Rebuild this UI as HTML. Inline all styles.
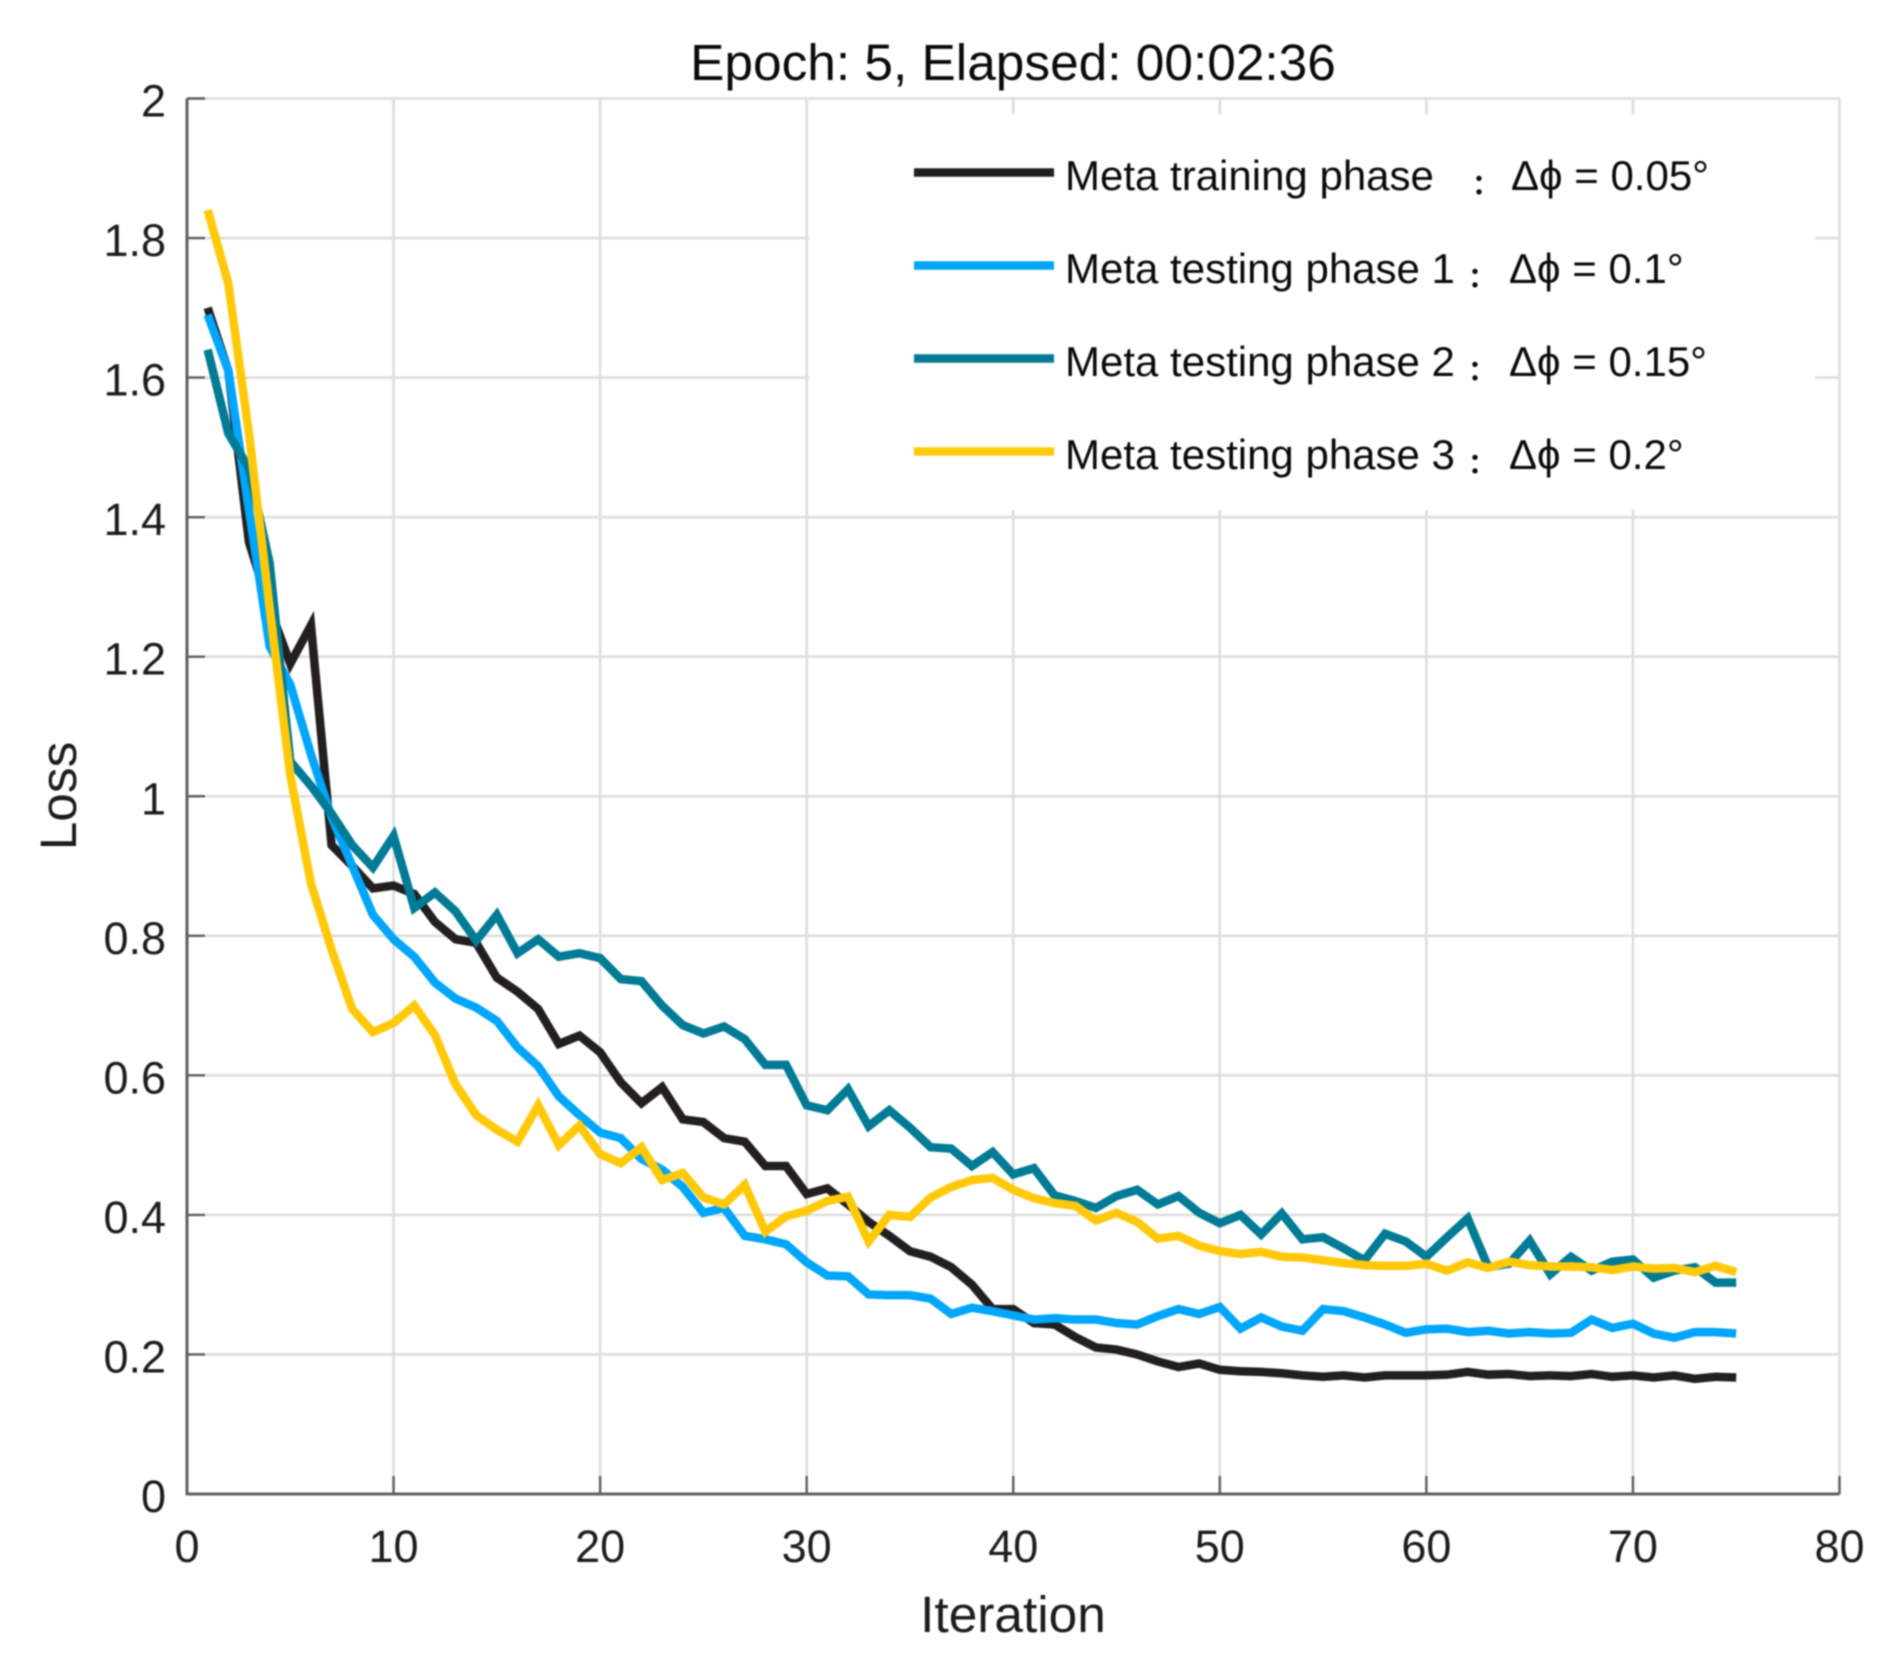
<!DOCTYPE html>
<html lang="en">
<head>
<meta charset="utf-8">
<title>Epoch: 5, Elapsed: 00:02:36</title>
<style>
html,body{margin:0;padding:0;background:#fff;width:1894px;height:1667px;overflow:hidden}
svg{display:block;filter:blur(0.7px)}
text{font-family:"Liberation Sans","DejaVu Sans",sans-serif;fill:#1c1c1c}
</style>
</head>
<body>
<svg id="chart" xmlns="http://www.w3.org/2000/svg" width="1894" height="1667" viewBox="0 0 1894 1667">
<rect width="1894" height="1667" fill="#fff"/>
<g id="grid"></g>
<rect x="809" y="110" width="1006" height="400" fill="#fff"/>
<g id="axes"></g>
<g id="series"></g>
<text x="1013" y="80" text-anchor="middle" font-size="51.4" style="fill:#0a0a0a">Epoch: 5, Elapsed: 00:02:36</text>
<text x="1013" y="1632" text-anchor="middle" font-size="51.4">Iteration</text>
<text transform="translate(76 796) rotate(-90)" text-anchor="middle" font-size="51.4">Loss</text>
<g id="legend">
  <g>
    <line x1="914" y1="172.5" x2="1054" y2="172.5" stroke="#231f20" stroke-width="8.5"/>
    <text y="190" font-size="42" style="fill:#0a0a0a"><tspan x="1065">Meta training phase</tspan><tspan x="1472" y="194" font-family="'Noto Sans CJK SC',sans-serif" font-size="28" font-weight="700">：</tspan><tspan x="1511" y="190">Δϕ = 0.05°</tspan></text>
  </g>
  <g>
    <line x1="914" y1="265.5" x2="1054" y2="265.5" stroke="#00a6fb" stroke-width="8.5"/>
    <text y="283" font-size="42" style="fill:#0a0a0a"><tspan x="1065">Meta testing phase 1</tspan><tspan x="1468" y="287" font-family="'Noto Sans CJK SC',sans-serif" font-size="28" font-weight="700">：</tspan><tspan x="1509" y="283">Δϕ = 0.1°</tspan></text>
  </g>
  <g>
    <line x1="914" y1="358.5" x2="1054" y2="358.5" stroke="#007b96" stroke-width="8.5"/>
    <text y="376" font-size="42" style="fill:#0a0a0a"><tspan x="1065">Meta testing phase 2</tspan><tspan x="1468" y="380" font-family="'Noto Sans CJK SC',sans-serif" font-size="28" font-weight="700">：</tspan><tspan x="1509" y="376">Δϕ = 0.15°</tspan></text>
  </g>
  <g>
    <line x1="914" y1="451.5" x2="1054" y2="451.5" stroke="#ffc90a" stroke-width="8.5"/>
    <text y="469" font-size="42" style="fill:#0a0a0a"><tspan x="1065">Meta testing phase 3</tspan><tspan x="1468" y="473" font-family="'Noto Sans CJK SC',sans-serif" font-size="28" font-weight="700">：</tspan><tspan x="1509" y="469">Δϕ = 0.2°</tspan></text>
  </g>
</g>
</svg>
<script>
const iterations = [1,2,3,4,5,6,7,8,9,10,11,12,13,14,15,16,17,18,19,20,21,22,23,24,25,26,27,28,29,30,31,32,33,34,35,36,37,38,39,40,41,42,43,44,45,46,47,48,49,50,51,52,53,54,55,56,57,58,59,60,61,62,63,64,65,66,67,68,69,70,71,72,73,74,75];
const trainingLoss = [1.70,1.61,1.364,1.27,1.19,1.245,0.93,0.90,0.868,0.872,0.86,0.82,0.795,0.79,0.74,0.72,0.695,0.645,0.657,0.633,0.59,0.56,0.583,0.537,0.533,0.51,0.505,0.47,0.47,0.43,0.438,0.415,0.39,0.37,0.348,0.34,0.325,0.30,0.265,0.265,0.245,0.243,0.225,0.21,0.207,0.20,0.19,0.182,0.187,0.178,0.176,0.175,0.173,0.17,0.168,0.17,0.167,0.17,0.17,0.17,0.171,0.175,0.171,0.172,0.169,0.17,0.169,0.172,0.168,0.17,0.167,0.17,0.165,0.168,0.167];
const testing1Loss = [1.69,1.61,1.41,1.215,1.16,1.06,0.97,0.90,0.83,0.795,0.77,0.733,0.71,0.697,0.678,0.64,0.613,0.57,0.543,0.518,0.51,0.48,0.465,0.44,0.403,0.41,0.37,0.365,0.358,0.332,0.313,0.312,0.286,0.285,0.285,0.28,0.258,0.267,0.262,0.256,0.25,0.252,0.25,0.25,0.245,0.243,0.255,0.265,0.258,0.268,0.237,0.253,0.24,0.234,0.265,0.262,0.253,0.243,0.231,0.236,0.237,0.232,0.234,0.23,0.232,0.23,0.231,0.25,0.238,0.244,0.23,0.224,0.232,0.232,0.23];
const testing2Loss = [1.64,1.52,1.47,1.334,1.05,1.015,0.975,0.93,0.898,0.943,0.84,0.862,0.835,0.793,0.83,0.775,0.795,0.77,0.775,0.768,0.738,0.735,0.70,0.672,0.66,0.67,0.652,0.615,0.615,0.557,0.55,0.58,0.527,0.55,0.525,0.497,0.495,0.47,0.49,0.458,0.467,0.428,0.42,0.41,0.427,0.436,0.415,0.427,0.403,0.388,0.40,0.372,0.402,0.365,0.368,0.352,0.335,0.373,0.362,0.34,0.368,0.395,0.325,0.33,0.363,0.315,0.34,0.32,0.333,0.336,0.31,0.32,0.325,0.303,0.303];
const testing3Loss = [1.84,1.735,1.52,1.27,1.03,0.875,0.78,0.695,0.662,0.675,0.70,0.658,0.587,0.543,0.522,0.505,0.557,0.50,0.528,0.487,0.474,0.497,0.45,0.46,0.425,0.415,0.443,0.376,0.398,0.406,0.42,0.426,0.362,0.40,0.397,0.425,0.44,0.45,0.453,0.436,0.424,0.417,0.413,0.392,0.403,0.39,0.366,0.37,0.356,0.348,0.344,0.347,0.34,0.339,0.335,0.331,0.328,0.327,0.327,0.33,0.32,0.332,0.324,0.333,0.328,0.326,0.326,0.325,0.321,0.326,0.323,0.324,0.318,0.327,0.318];
const xTickValues = [0,10,20,30,40,50,60,70,80];
const yTickValues = [0,0.2,0.4,0.6,0.8,1,1.2,1.4,1.6,1.8,2];
const yTickLabels = ['0','0.2','0.4','0.6','0.8','1','1.2','1.4','1.6','1.8','2'];

const plotLeft = 187, plotRight = 1839.5, plotTop = 98.5, plotBottom = 1494;
const xMax = 80, yMax = 2;
function xScale(v){ return plotLeft + (v / xMax) * (plotRight - plotLeft); }
function yScale(v){ return plotBottom - (v / yMax) * (plotBottom - plotTop); }

const NS = 'http://www.w3.org/2000/svg';
function svgEl(tag, parent, attrs){
  const el = document.createElementNS(NS, tag);
  for (const k in attrs) el.setAttribute(k, attrs[k]);
  parent.appendChild(el);
  return el;
}
const gridG = document.getElementById('grid');
const axesG = document.getElementById('axes');
const seriesG = document.getElementById('series');
const gridColor = '#dedede', axisColor = '#5f5f5f';

xTickValues.forEach(function(v){
  const x = xScale(v);
  if (v > 0) {
    const g = svgEl('line', gridG, {x1:x, y1:plotTop, x2:x, y2:plotBottom, stroke:gridColor, 'stroke-width':2.6});
    
    
  }
  const t = svgEl('line', axesG, {x1:x, y1:plotBottom, x2:x, y2:plotBottom-18, stroke:axisColor, 'stroke-width':2.4});
  
  
  if (v > 0 && v < xMax) {
    const t2 = svgEl('line', axesG, {x1:x, y1:plotTop, x2:x, y2:plotTop+16, stroke:gridColor, 'stroke-width':2.6});
    
    
  }
  const lab = svgEl('text', axesG, {x:x, y:1562, 'text-anchor':'middle', 'font-size':45});
  
  
  lab.textContent = String(v);
});
yTickValues.forEach(function(v, i){
  const y = yScale(v);
  if (v > 0) {
    const g = svgEl('line', gridG, {x1:plotLeft, y1:y, x2:plotRight, y2:y, stroke:gridColor, 'stroke-width':2.6});
    
    
  }
  const t = svgEl('line', axesG, {x1:plotLeft, y1:y, x2:plotLeft+18, y2:y, stroke:axisColor, 'stroke-width':2.4});
  
  
  const lab = svgEl('text', axesG, {x:166, y:y+18, 'text-anchor':'end', 'font-size':45});
  
  
  lab.textContent = yTickLabels[i];
});
const leftAxis = svgEl('line', axesG, {x1:plotLeft, y1:plotTop, x2:plotLeft, y2:plotBottom+1.2, stroke:axisColor, 'stroke-width':3});


const bottomAxis = svgEl('line', axesG, {x1:plotLeft, y1:plotBottom, x2:plotRight, y2:plotBottom, stroke:axisColor, 'stroke-width':3});



function drawSeries(values, color, name){
  const pts = values.map(function(v, i){
    return xScale(iterations[i]).toFixed(2) + ',' + yScale(v).toFixed(2);
  }).join(' ');
  const line = svgEl('polyline', seriesG, {points:pts, fill:'none', stroke:color, 'stroke-width':8.5, 'stroke-linejoin':'miter', 'stroke-miterlimit':4, 'stroke-linecap':'butt'});
  
  
}
drawSeries(trainingLoss, '#231f20', 'series-meta-training');
drawSeries(testing1Loss, '#00a6fb', 'series-meta-testing-1');
drawSeries(testing2Loss, '#007b96', 'series-meta-testing-2');
drawSeries(testing3Loss, '#ffc90a', 'series-meta-testing-3');
</script>
</body>
</html>
